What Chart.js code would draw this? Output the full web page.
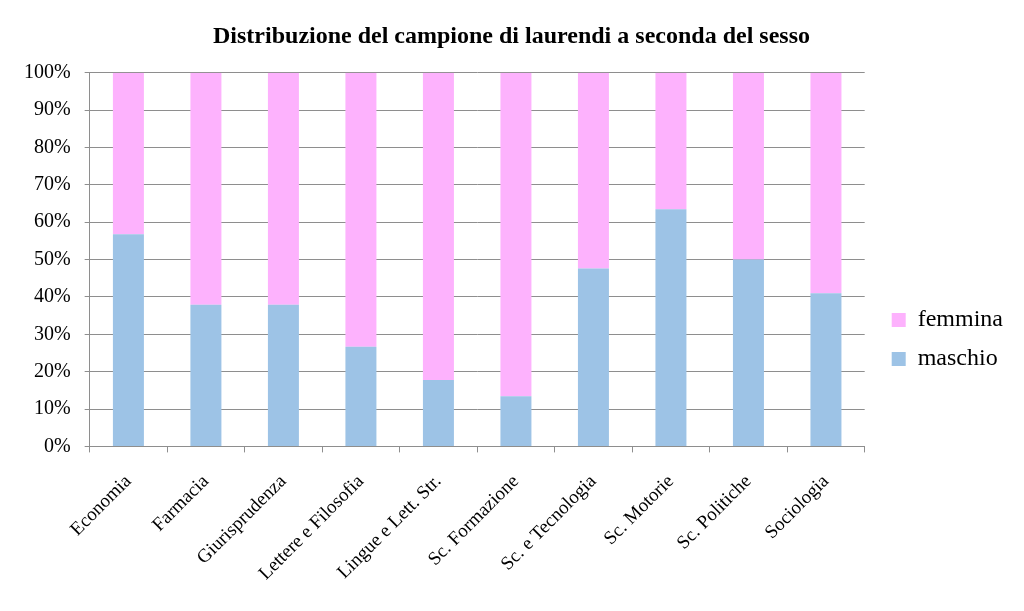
<!DOCTYPE html>
<html>
<head>
<meta charset="utf-8">
<script src="https://cdn.jsdelivr.net/npm/chart.js@4"></script>
<style>
  body { margin: 0; background: #fff; }
</style>
</head>
<body>
<canvas id="chart" width="1024" height="611"></canvas>
<script>
const categories = ["Economia", "Farmacia", "Giurisprudenza", "Lettere e Filosofia", "Lingue e Lett. Str.",
  "Sc. Formazione", "Sc. e Tecnologia", "Sc. Motorie", "Sc. Politiche", "Sociologia"];
const maschio = [56.8, 37.9, 37.9, 26.7, 17.8, 13.4, 47.6, 63.5, 50.0, 41.0];
const femmina = [43.2, 62.1, 62.1, 73.3, 82.2, 86.6, 52.4, 36.5, 50.0, 59.0];

const serif = "'Liberation Serif', 'Times New Roman', serif";
const gridColor = "#8e8e8e";

// legend sits a bit away from the plot and lower than centre, like the original
const extraGap = 12;
const legendShift = {
  id: "legendShift",
  beforeInit(chart) {
    const fit = chart.legend.fit;
    chart.legend.fit = function () {
      fit.call(this);
      this.width += extraGap;
    };
  },
  afterLayout(chart) {
    chart.legend.left += extraGap;
    chart.legend.top += 65;
  }
};

new Chart(document.getElementById("chart").getContext("2d"), {
  type: "bar",
  data: {
    labels: categories,
    datasets: [
      { label: "maschio", data: maschio, backgroundColor: "#9dc3e6" },
      { label: "femmina", data: femmina, backgroundColor: "#fdb2fd" }
    ]
  },
  options: {
    responsive: false,
    animation: false,
    datasets: { bar: { categoryPercentage: 1, barPercentage: 0.4 } },
    layout: { padding: { left: 10, right: 11, top: 11, bottom: 8 } },
    plugins: {
      title: {
        display: true,
        text: "Distribuzione del campione di laurendi a seconda del sesso",
        color: "#000",
        font: { family: serif, size: 24, weight: "bold" },
        padding: { top: 11, bottom: 22 }
      },
      legend: {
        position: "right",
        reverse: true,
        labels: {
          color: "#000",
          font: { family: serif, size: 24 },
          boxWidth: 14,
          boxHeight: 14,
          padding: 15
        }
      },
      tooltip: { enabled: false }
    },
    scales: {
      x: {
        stacked: true,
        grid: { drawOnChartArea: false, drawTicks: true, tickLength: 6, color: gridColor, offset: true },
        border: { color: gridColor },
        ticks: { color: "#000", font: { family: serif, size: 19 }, minRotation: 45, maxRotation: 45, padding: 18 }
      },
      y: {
        stacked: true,
        min: 0,
        max: 100,
        grid: { color: gridColor, tickLength: 5 },
        border: { color: gridColor },
        ticks: {
          stepSize: 10,
          color: "#000",
          font: { family: serif, size: 20 },
          padding: 14,
          callback: v => v + "%"
        }
      }
    }
  },
  plugins: [legendShift]
});
</script>
</body>
</html>
